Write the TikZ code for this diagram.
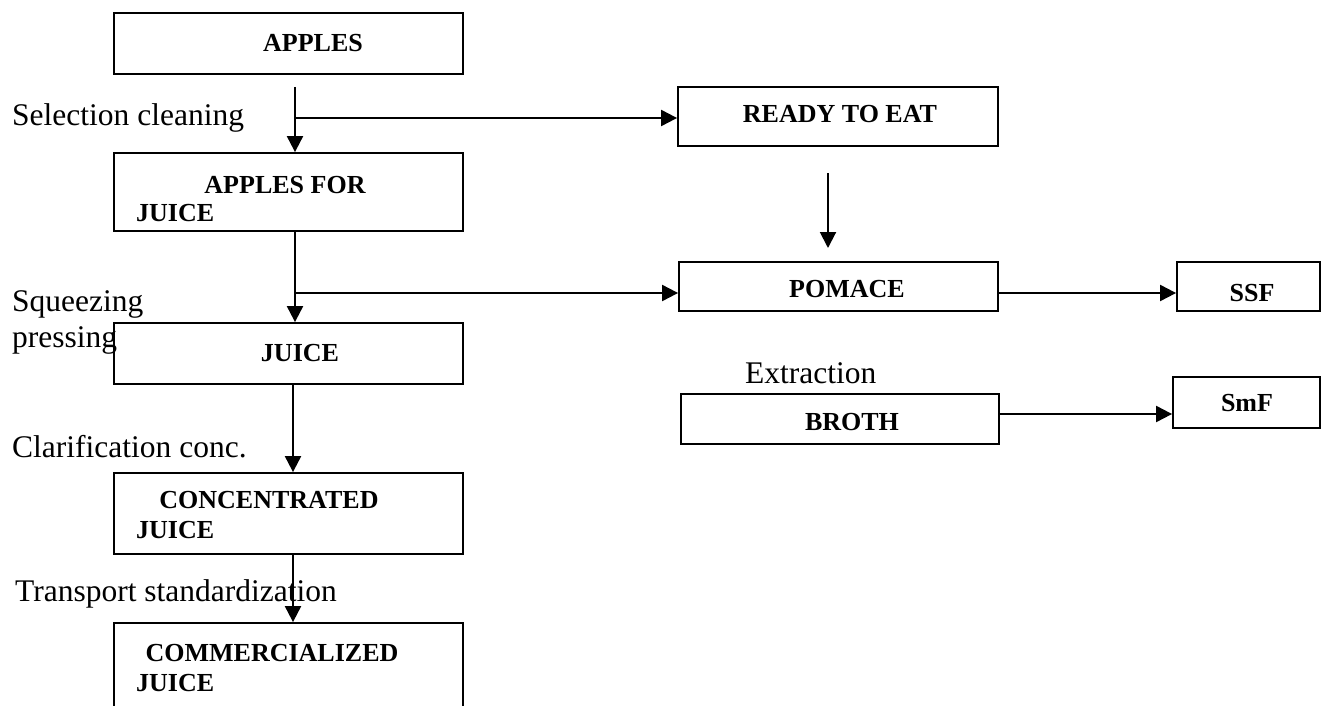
\documentclass[tikz,border=0pt]{standalone}
\usepackage{fontspec}
\setmainfont{Liberation Serif}
\usetikzlibrary{arrows.meta}
\begin{document}
\begin{tikzpicture}[x=1pt,y=-1pt,
  box/.style={draw, line width=1.8pt, inner sep=0pt},
  lbl/.style={font=\bfseries\fontsize{26}{30}\selectfont, inner sep=0pt},
  proc/.style={font=\fontsize{31.5}{36}\selectfont, inner sep=0pt, anchor=base west},
  arr/.style={-{Triangle[length=16pt,width=16pt]}, line width=2pt}]
\useasboundingbox (0,0) rectangle (1327,706);
\fill[white] (0,0) rectangle (1327,706);
\begin{scope}
\clip (0,0) rectangle (1327,706);
% boxes
\node[box, minimum width=349pt, minimum height=61pt] (apples) at (288.5,43.5) {};
\node[box, minimum width=349pt, minimum height=78pt] (applesjuice) at (288.5,192) {};
\node[box, minimum width=349pt, minimum height=61pt] (juice) at (288.5,353.5) {};
\node[box, minimum width=349pt, minimum height=81pt] (conc) at (288.5,513.5) {};
\node[box, minimum width=349pt, minimum height=120pt] (comm) at (288.5,683) {};
\node[box, minimum width=320pt, minimum height=59pt] (ready) at (838,116.5) {};
\node[box, minimum width=319pt, minimum height=49pt] (pomace) at (838.5,286.5) {};
\node[box, minimum width=318pt, minimum height=50pt] (broth) at (840,419) {};
\node[box, minimum width=143pt, minimum height=49pt] (ssf) at (1248.5,286.5) {};
\node[box, minimum width=147pt, minimum height=51pt] (smf) at (1246.5,402.5) {};
% box texts
\node[lbl] (tapples) at (313,43) {APPLES};
\node[lbl] (taj1) at (285,185) {APPLES FOR};
\node[lbl, anchor=west] (taj2) at (136,213) {JUICE};
\node[lbl] (tjuice) at (300,353) {JUICE};
\node[lbl] (tconc1) at (269,500) {CONCENTRATED};
\node[lbl, anchor=west] (tconc2) at (136,530) {JUICE};
\node[lbl] (tcomm1) at (272,653) {COMMERCIALIZED};
\node[lbl, anchor=west] (tcomm2) at (136,683) {JUICE};
\node[lbl] (tready) at (840,114) {READY TO EAT};
\node[lbl] (tpomace) at (847,289) {POMACE};
\node[lbl] (tbroth) at (852,422) {BROTH};
\node[lbl] (tssf) at (1252,293) {SSF};
\node[lbl] (tsmf) at (1247,403) {SmF};
% process labels
\node[proc] (l1) at (12,125) {Selection cleaning};
\node[proc] (l2a) at (12,311) {Squeezing};
\node[proc] (l2b) at (12,347) {pressing};
\node[proc] (l3) at (12,457) {Clarification conc.};
\node[proc] (l4) at (15,601) {Transport standardization};
\node[proc] (l5) at (745,383) {Extraction};
% connectors
\coordinate (s1) at (295,87);
\draw[arr] (s1) -- (s1 |- applesjuice.north);
\coordinate (b1) at (295,118);
\draw[arr] (b1) -- (b1 -| ready.west);
\draw[arr] (applesjuice.south -| s1) -- (juice.north -| s1);
\coordinate (b2) at (295,293);
\draw[arr] (b2) -- (b2 -| pomace.west);
\coordinate (s3) at (828,173);
\coordinate (e3) at (828,248);
\draw[arr] (s3) -- (e3);
\coordinate (m) at (293,0);
\draw[arr] (juice.south -| m) -- (conc.north -| m);
\draw[arr] (conc.south -| m) -- (comm.north -| m);
\coordinate (p) at (0,293);
\draw[arr] (pomace.east |- p) -- (ssf.west |- p);
\coordinate (q) at (0,414);
\draw[arr] (broth.east |- q) -- (smf.west |- q);
\end{scope}
\end{tikzpicture}
\end{document}
